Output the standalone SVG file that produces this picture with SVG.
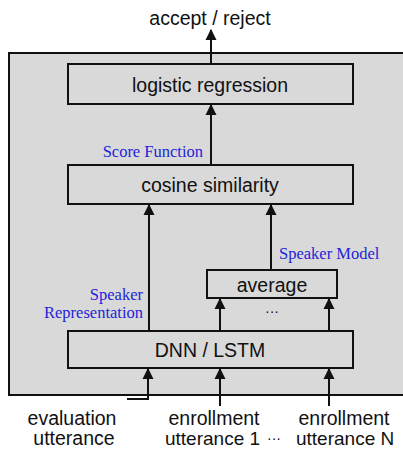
<svg xmlns="http://www.w3.org/2000/svg" width="403" height="449" viewBox="0 0 403 449">
<style>
.box{fill:#d9d9d9;stroke:#111;stroke-width:2}
.t{font-family:"Liberation Sans",Arial,sans-serif;font-size:19.5px;fill:#111;text-anchor:middle}
.u{font-family:"Liberation Sans",Arial,sans-serif;font-size:19px;fill:#111}
.b{font-family:"Liberation Serif","Times New Roman",serif;font-size:16.5px;fill:#2424d8}
.c{fill:none;stroke:#111;stroke-width:2}
</style>
<defs>
<marker id="ah" markerWidth="11" markerHeight="13" refX="9" refY="5" orient="auto" markerUnits="userSpaceOnUse" viewBox="0 0 10 10">
<path d="M0,0 L10,5 L0,10 z" fill="#111"/>
</marker>
</defs>
<rect x="0" y="0" width="403" height="449" fill="#fff"/>
<g id="outer"><rect x="9" y="53" width="400" height="342" class="box"/></g>
<g id="output"><text x="210" y="25" class="t">accept / reject</text></g>
<g id="logistic"><rect x="68" y="64" width="285" height="40" class="box"/><text x="210" y="92" class="t">logistic regression</text></g>
<g id="cosine"><rect x="68" y="165" width="285" height="39" class="box"/><text x="210" y="192" class="t">cosine similarity</text></g>
<g id="average"><rect x="207" y="270" width="130" height="28" class="box"/><text x="272" y="292" class="t">average</text></g>
<g id="dnn"><rect x="68" y="331" width="285" height="37" class="box"/><text x="210" y="357" class="t">DNN / LSTM</text></g>
<g id="inputs">
<text x="72" y="425" class="t">evaluation</text>
<text x="74" y="445" class="t">utterance</text>
<text x="214" y="425" class="t">enrollment</text>
<text x="165" y="445" class="u">utterance 1</text>
<text x="274" y="443" class="t" style="font-size:14px">···</text>
<text x="296" y="445" class="u">utterance N</text>
<text x="344" y="425" class="t">enrollment</text>
</g>
<g id="labels">
<text x="203" y="157" class="b" text-anchor="end">Score Function</text>
<text x="279" y="259" class="b">Speaker Model</text>
<text x="143" y="300" class="b" text-anchor="end">Speaker</text>
<text x="143" y="318" class="b" text-anchor="end">Representation</text>
<text x="272" y="316" class="t" style="font-size:14px">···</text>
</g>
<g id="connectors">
<line x1="211" y1="64" x2="211" y2="30" class="c" marker-end="url(#ah)"/>
<line x1="211" y1="165" x2="211" y2="105" class="c" marker-end="url(#ah)"/>
<line x1="149" y1="331" x2="149" y2="205" class="c" marker-end="url(#ah)"/>
<line x1="271" y1="270" x2="271" y2="205" class="c" marker-end="url(#ah)"/>
<line x1="220" y1="331" x2="220" y2="299" class="c" marker-end="url(#ah)"/>
<line x1="329" y1="331" x2="329" y2="299" class="c" marker-end="url(#ah)"/>
<polyline points="127,399 148,399 148,369" class="c" marker-end="url(#ah)"/>
<line x1="220" y1="406" x2="220" y2="369" class="c" marker-end="url(#ah)"/>
<line x1="329" y1="406" x2="329" y2="369" class="c" marker-end="url(#ah)"/>
</g>
</svg>
